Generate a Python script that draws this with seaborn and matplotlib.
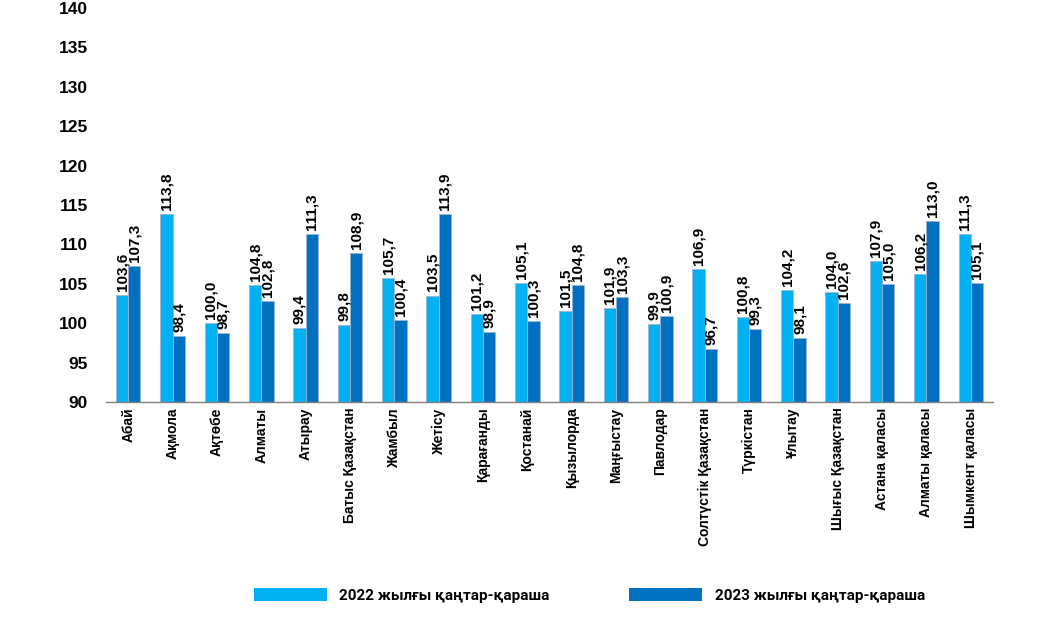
import matplotlib
matplotlib.use("Agg")
import matplotlib.pyplot as plt
import matplotlib.patches as mpatches
from matplotlib.ticker import FixedLocator
import seaborn as sns
import pandas as pd
import numpy as np

regions = ["Абай", "Ақмола", "Ақтөбе", "Алматы", "Атырау", "Батыс Қазақстан",
           "Жамбыл", "Жетісу", "Қарағанды", "Қостанай", "Қызылорда", "Маңғыстау",
           "Павлодар", "Солтүстік Қазақстан", "Түркістан", "Ұлытау",
           "Шығыс Қазақстан", "Астана қаласы", "Алматы қаласы", "Шымкент қаласы"]
vals_2022 = [103.6, 113.8, 100.0, 104.8, 99.4, 99.8, 105.7, 103.5, 101.2, 105.1,
             101.5, 101.9, 99.9, 106.9, 100.8, 104.2, 104.0, 107.9, 106.2, 111.3]
vals_2023 = [107.3, 98.4, 98.7, 102.8, 111.3, 108.9, 100.4, 113.9, 98.9, 100.3,
             104.8, 103.3, 100.9, 96.7, 99.3, 98.1, 102.6, 105.0, 113.0, 105.1]
series = ["2022 жылғы қаңтар-қараша", "2023 жылғы қаңтар-қараша"]
colors = ["#00B0F0", "#0070C0"]

sns.set_theme(style="white")
plt.rcParams['font.family'] = ['Liberation Sans', 'DejaVu Sans']
plt.rcParams['text.color'] = 'black'
plt.rcParams['xtick.color'] = 'black'
plt.rcParams['ytick.color'] = 'black'

df = pd.DataFrame({
    "region": regions * 2,
    "value": vals_2022 + vals_2023,
    "series": [series[0]] * len(regions) + [series[1]] * len(regions),
})

fig = plt.figure(figsize=(10.62, 6.29), dpi=100)
ax = fig.add_axes([106/1062, 1-402/629, (993-106)/1062, (402-8)/629])

sns.barplot(data=df, x="region", y="value", hue="series", palette=colors,
            hue_order=series, order=regions, width=0.555, ax=ax, saturation=1,
            edgecolor="#9fb4d0", linewidth=0.6, legend=False)

ax.set_ylim(90, 140)
ax.set_xlim(-0.5, len(regions) - 0.5)
ax.set_yticks(np.arange(90, 141, 5))
ax.set_xlabel("")
ax.set_ylabel("")

for cont in ax.containers:
    ax.bar_label(cont, labels=[f"{v:.1f}".replace(".", ",") for v in cont.datavalues],
                 rotation=90, padding=3, fontsize=11, fontweight="bold", color="black")

for s in ["top", "right", "left"]:
    ax.spines[s].set_visible(False)
ax.spines["bottom"].set_color("#808080")
ax.spines["bottom"].set_linewidth(1.0)

ax.tick_params(axis="y", length=0, pad=13, labelsize=12.5, labelcolor="black")
for t in ax.get_yticklabels():
    t.set_fontweight("bold")
ax.tick_params(axis="x", which="major", length=0, pad=4, labelsize=10, labelcolor="black")
ax.set_xticks(range(len(regions)))
ax.set_xticklabels(regions, rotation=90, fontweight="bold")
ax.xaxis.set_minor_locator(FixedLocator(np.arange(-0.5, len(regions), 1.0)))
ax.tick_params(axis="x", which="minor", length=6, width=1, color="#808080", direction="out")

handles = [mpatches.Patch(facecolor=c, edgecolor="none") for c in colors]
fig.legend(handles, series, loc="upper left", bbox_to_anchor=(240/1062, 1-574/629),
           ncol=2, frameon=False, handlelength=4.8, handleheight=1.0,
           handletextpad=0.8, columnspacing=5.2,
           prop={"family": "Roboto", "weight": "bold", "size": 11})

fig.savefig("out.png", dpi=100)
